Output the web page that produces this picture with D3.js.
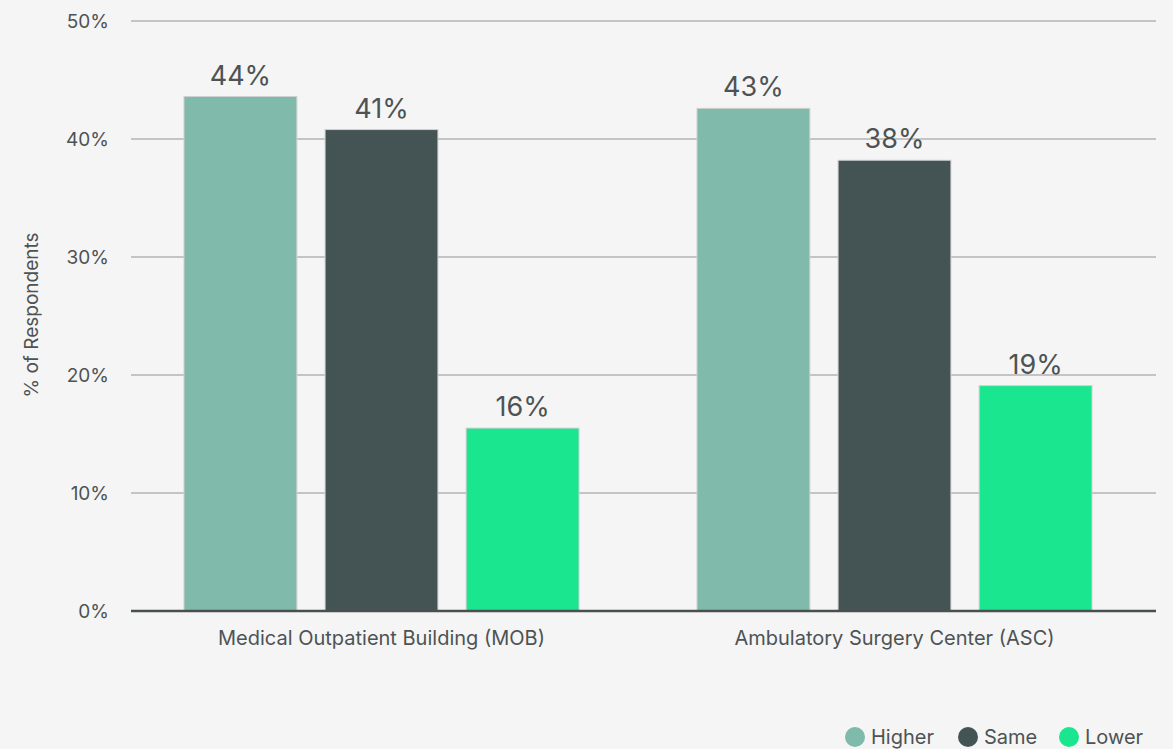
<!DOCTYPE html>
<html lang="en">
<head>
<meta charset="utf-8">
<title>respondents</title>
<script src="https://cdn.jsdelivr.net/npm/d3@7"></script>
<style>
  body{margin:0;background:#f5f5f5;font-family:Inter,"Noto Sans",sans-serif;}
  svg text{fill:#4d5354;}
</style>
</head>
<body>
<div id="chart"></div>
<script>
var categories = ["Medical Outpatient Building (MOB)", "Ambulatory Surgery Center (ASC)"]
var seriesNames = ["Higher", "Same", "Lower"]
var higher = [43.6, 42.6]
var same = [40.8, 38.2]
var lower = [15.5, 19.1]
var barLabels = [["44%", "41%", "16%"], ["43%", "38%", "19%"]]
var yTicks = [0, 10, 20, 30, 40, 50]
var colors = ["#7fbaab", "#445455", "#19e68f"]

var w = 1173, h = 749
var svg = d3.select("#chart").append("svg").attr("width", w).attr("height", h)

var y = d3.scaleLinear().domain([0, 50]).range([611, 21])
var x0 = d3.scaleBand().domain(categories).range([132.7, 1143.3]).paddingInner(0.23).paddingOuter(0.1)
var x1 = d3.scaleBand().domain(seriesNames).range([0, x0.bandwidth()]).paddingInner(0.2)

// gridlines + tick labels
var yAxis = d3.axisLeft(y).tickValues(yTicks).tickFormat(function(d){return d + "%"}).tickSize(0)
var gy = svg.append("g").attr("transform", "translate(131,0)").call(yAxis)
gy.select(".domain").remove()
gy.selectAll("text").attr("x", -22).attr("dy", "0.32em").style("font-size", "19px").style("font-family", "Inter, sans-serif").attr("fill", "#4d5354")
svg.append("g").selectAll("line").data(yTicks.filter(function(d){return d > 0})).enter().append("line")
  .attr("x1", 131).attr("x2", 1156)
  .attr("y1", function(d){return y(d)}).attr("y2", function(d){return y(d)})
  .attr("stroke", "#c4c4c4").attr("stroke-width", 2)

var rows = categories.map(function(c, i){
  return {cat: c, vals: [higher[i], same[i], lower[i]], labels: barLabels[i]}
})

var groups = svg.selectAll(".grp").data(rows).enter().append("g")
  .attr("class", "grp")
  .attr("transform", function(d){return "translate(" + x0(d.cat) + ",0)"})

groups.selectAll("rect").data(function(d){
  return d.vals.map(function(v, j){return {s: seriesNames[j], v: v, label: d.labels[j], c: colors[j]}})
}).enter().append("rect")
  .attr("x", function(d){return x1(d.s)})
  .attr("width", x1.bandwidth())
  .attr("y", function(d){return y(d.v)})
  .attr("height", function(d){return y(0) - y(d.v)})
  .attr("fill", function(d){return d.c})
  .attr("stroke", "#d0d0d0").attr("stroke-width", 1)

groups.selectAll(".val").data(function(d){
  return d.vals.map(function(v, j){return {s: seriesNames[j], v: v, label: d.labels[j]}})
}).enter().append("text")
  .attr("class", "val")
  .attr("x", function(d){return x1(d.s) + x1.bandwidth() / 2})
  .attr("y", function(d){return y(d.v) - 12})
  .attr("text-anchor", "middle")
  .style("font-size", "27px")
  .text(function(d){return d.label})

// baseline
svg.append("line").attr("x1", 131).attr("x2", 1156).attr("y1", y(0)).attr("y2", y(0))
  .attr("stroke", "#4a4f50").attr("stroke-width", 2.5)

// category labels
svg.selectAll(".cat").data(categories).enter().append("text")
  .attr("x", function(d){return x0(d) + x0.bandwidth() / 2})
  .attr("y", 645)
  .attr("text-anchor", "middle")
  .style("font-size", "20px")
  .text(function(d){return d})

svg.append("text")
  .attr("transform", "translate(38,315) rotate(-90)")
  .attr("text-anchor", "middle")
  .style("font-size", "19px")
  .text("% of Respondents")

// legend
var legX = [855, 968, 1069]
var leg = svg.selectAll(".leg").data(seriesNames).enter().append("g")
  .attr("transform", function(d, i){return "translate(" + legX[i] + ",737)"})
leg.append("circle").attr("r", 10).attr("fill", function(d, i){return colors[i]})
leg.append("text").attr("x", 16).attr("dy", "0.35em").style("font-size", "20px").text(function(d){return d})
</script>
</body>
</html>
